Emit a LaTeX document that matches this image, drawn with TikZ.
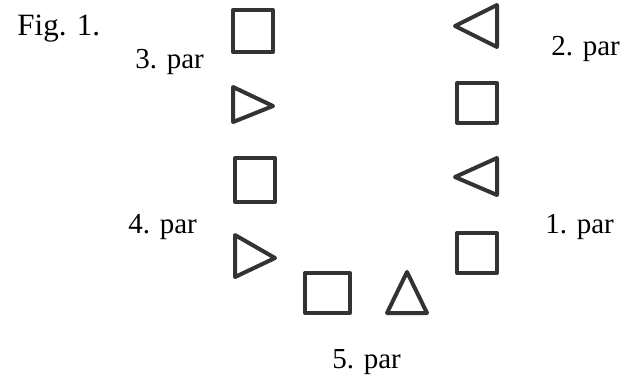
\documentclass[tikz,border=0pt]{standalone}
\usepackage{fontspec}
\setmainfont{Liberation Serif}

\begin{document}
\begin{tikzpicture}[
			x=0.5pt, y=-0.5pt,
			glyph/.style={line width=2pt, line join=round, line cap=round, draw=black!80},
			lbl/.style={anchor=base west, inner sep=0pt, font=\fontsize{14.5}{16}\selectfont},
			title/.style={anchor=base west, inner sep=0pt, font=\fontsize{15.5}{17}\selectfont}
			]
			\useasboundingbox (0,0) rectangle (625,377);
			
			% Caption
			\node[title] (fig) at (17,35) {Fig. 1.};
			
			% Labels of the pairs
			\node[lbl] (par1) at (545,233) {1. par};
			\node[lbl] (par2) at (551,55) {2. par};
			\node[lbl] (par3) at (135,68) {3. par};
			\node[lbl] (par4) at (128,233) {4. par};
			\node[lbl] (par5) at (332,368) {5. par};
			
			% Squares
			\draw[glyph] (233,10) rectangle (273,52);
			\draw[glyph] (457,83) rectangle (497,123);
			\draw[glyph] (235,158) rectangle (275,202);
			\draw[glyph] (457,233) rectangle (497,273);
			\draw[glyph] (305,273) rectangle (350,313);
			
			% Triangles pointing left
			\draw[glyph] (497,5) -- (455,26) -- (497,47) -- cycle;
			\draw[glyph] (497,158) -- (455,177) -- (497,195) -- cycle;
			
			% Triangles pointing right
			\draw[glyph] (233,87) -- (273,106) -- (233,122) -- cycle;
			\draw[glyph] (235,235) -- (275,258) -- (235,277) -- cycle;
			
			% Triangle pointing up
			\draw[glyph] (387,313) -- (407,272) -- (427,313) -- cycle;
			
		\end{tikzpicture}
\end{document}
